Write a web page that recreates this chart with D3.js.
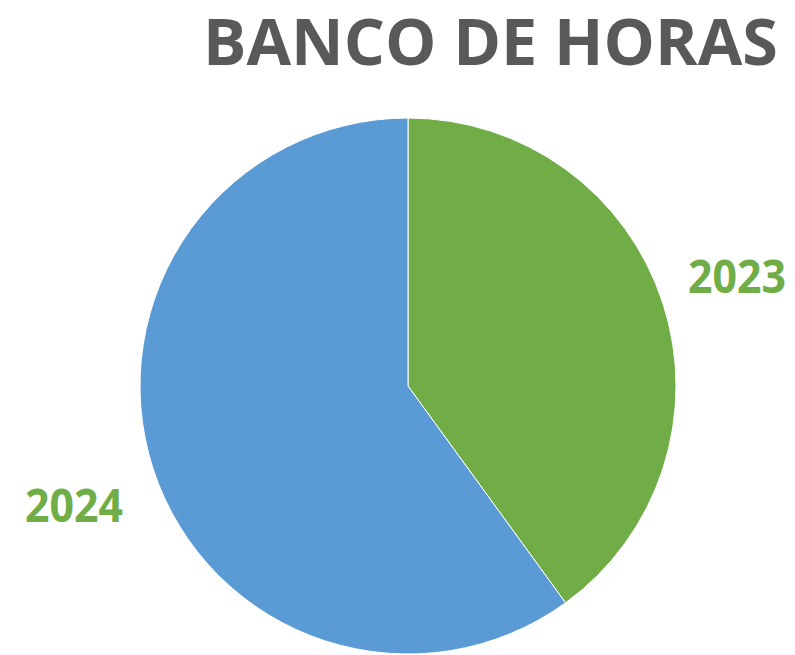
<!DOCTYPE html>
<html>
<head>
<meta charset="utf-8">
<script src="https://cdn.jsdelivr.net/npm/d3@7"></script>
<style>
  body { margin: 0; background: #fff; }
  text { font-family: "Open Sans", "Noto Sans", sans-serif; font-weight: bold; }
</style>
</head>
<body>
<div id="chart"></div>
<script>
var categories = ['2023', '2024'];
var values = [40, 60];
var sliceColors = ['#70AD47', '#5B9BD5'];
var chartTitle = 'BANCO DE HORAS';

var svgWidth = 795;
var svgHeight = 655;
var cx = 408, cy = 386, radius = 268;

var svg = d3.select('#chart')
    .append('svg')
    .attr('width', svgWidth)
    .attr('height', svgHeight);

var data = categories.map(function (c, i) { return { name: c, value: values[i] }; });

var pie = d3.pie()
    .sort(null)
    .value(function (d) { return d.value; });

var arc = d3.arc()
    .innerRadius(0)
    .outerRadius(radius);

var color = d3.scaleOrdinal()
    .domain(categories)
    .range(sliceColors);

var g = svg.append('g')
    .attr('transform', 'translate(' + cx + ',' + cy + ')');

g.selectAll('path')
    .data(pie(data))
    .enter()
    .append('path')
    .attr('d', arc)
    .attr('fill', function (d) { return color(d.data.name); })
    .attr('stroke', '#ffffff')
    .attr('stroke-width', 1);

// title
svg.append('text')
    .attr('x', 778)
    .attr('y', 65)
    .attr('text-anchor', 'end')
    .attr('font-size', 64)
    .attr('fill', '#595959')
    .attr('textLength', 575)
    .attr('lengthAdjust', 'spacingAndGlyphs')
    .text(chartTitle);

// labels, placed outside the slices
var labelPos = { '2023': [737, 293], '2024': [74, 522] };
svg.selectAll('.lbl')
    .data(data)
    .enter()
    .append('text')
    .attr('class', 'lbl')
    .attr('x', function (d) { return labelPos[d.name][0]; })
    .attr('y', function (d) { return labelPos[d.name][1]; })
    .attr('text-anchor', 'middle')
    .attr('font-size', 47)
    .attr('fill', '#70AD47')
    .attr('textLength', 98)
    .attr('lengthAdjust', 'spacingAndGlyphs')
    .text(function (d) { return d.name; });
</script>
</body>
</html>
